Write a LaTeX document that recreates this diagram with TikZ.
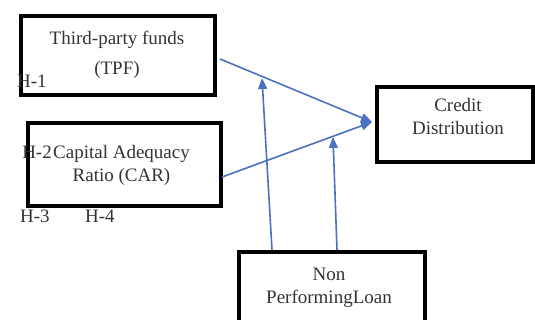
\documentclass[tikz,border=0pt]{standalone}
\usepackage{fontspec}
\setmainfont{Liberation Serif}
\usetikzlibrary{arrows.meta}
\definecolor{txt}{HTML}{333333}
\definecolor{arr}{HTML}{4A72C0}
\begin{document}
\begin{tikzpicture}[x=1pt,y=-1pt,
  box/.style={draw=black,line width=4pt,minimum width=#1,inner sep=0pt,anchor=north west},
  lbl/.style={text=txt,font=\fontsize{19}{23}\selectfont,align=center,inner sep=0pt},
  conn/.style={draw=arr,line width=1.6pt,-{Triangle[length=11pt,width=9pt]}}]
\useasboundingbox (0,0) rectangle (535,320);
\clip (0,0) rectangle (535,320);
\node[box=194pt,minimum height=79pt] (tpf) at (19,14) {};
\node[box=193pt,minimum height=83pt] (car) at (26,121) {};
\node[box=156pt,minimum height=75pt] (cd) at (375,85) {};
\node[box=186pt,minimum height=80pt] (npl) at (237,250) {};
\node[lbl,font=\fontsize{19}{30}\selectfont] (tpft) at (117,55) {Third-party funds\\(TPF)};
\node[lbl] (cart) at (121.5,165) {Capital Adequacy\\Ratio (CAR)};
\node[lbl] (cdt) at (458,117) {Credit\\Distribution};
\node[lbl] (nplt) at (329,288) {Non\\PerformingLoan};
\node[lbl,anchor=base west] (h1) at (17,88) {H-1};
\node[lbl,anchor=base east] (h2) at (52,159) {H-2};
\node[lbl,anchor=base west] (h3) at (20,223) {H-3};
\node[lbl,anchor=base west] (h4) at (85,223) {H-4};
\coordinate (a1) at (220,59);
\coordinate (a2) at (222,177);
\coordinate (b1) at (272,250);
\coordinate (b1e) at (262,78);
\coordinate (b2) at (337,250);
\coordinate (b2e) at (333,137);
\coordinate (cdin) at (372,122);
\draw[conn] (a1) -- (cdin);
\draw[conn] (a2) -- (cdin);
\draw[conn] (b1) -- (b1e);
\draw[conn] (b2) -- (b2e);
\end{tikzpicture}
\end{document}
